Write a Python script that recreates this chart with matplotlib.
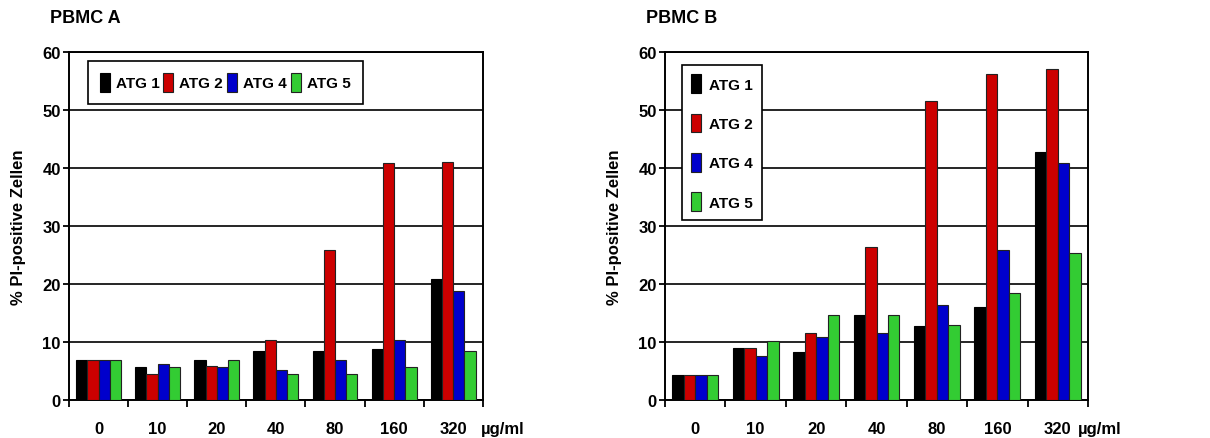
import matplotlib.pyplot as plt
import numpy as np

plt.rcParams['font.family'] = ['Liberation Sans', 'DejaVu Sans']
plt.rcParams['font.weight'] = 'bold'

doses = ['0', '10', '20', '40', '80', '160', '320']
series = ['ATG 1', 'ATG 2', 'ATG 4', 'ATG 5']
colors = ['#000000', '#cc0000', '#0000cc', '#33cc33']

# PBMC A
a_atg1 = [6.8, 5.6, 6.8, 8.5, 8.5, 8.8, 20.9]
a_atg2 = [6.8, 4.5, 5.9, 10.4, 25.8, 40.9, 41.1]
a_atg4 = [6.8, 6.1, 5.6, 5.1, 6.8, 10.4, 18.8]
a_atg5 = [6.8, 5.6, 6.8, 4.5, 4.5, 5.6, 8.4]

# PBMC B
b_atg1 = [4.2, 9.0, 8.2, 14.6, 12.7, 16.1, 42.8]
b_atg2 = [4.2, 9.0, 11.5, 26.4, 51.5, 56.3, 57.1]
b_atg4 = [4.2, 7.6, 10.9, 11.5, 16.3, 25.9, 40.8]
b_atg5 = [4.2, 10.1, 14.6, 14.6, 12.9, 18.5, 25.3]

fig = plt.figure(figsize=(12.1, 4.39), dpi=100)
ax_a = fig.add_axes([0.057, 0.087, 0.342, 0.792])
ax_b = fig.add_axes([0.5496, 0.087, 0.3496, 0.792])


def draw(ax, data, title, unit_x, legend_kw):
    x = np.arange(len(doses))
    w = 0.19
    for i, (vals, c) in enumerate(zip(data, colors)):
        ec = '#000000' if i == 0 else '#222222'
        ax.bar(x + (i - 1.5) * w, vals, width=w, color=c, edgecolor=ec,
               linewidth=0.8, label=series[i], zorder=3)
    ax.set_xlim(-0.5, len(doses) - 0.5)
    ax.set_ylim(0, 60)
    ax.set_yticks(range(0, 61, 10))
    ax.yaxis.grid(True, color='black', linewidth=1.2, zorder=0)
    ax.set_axisbelow(True)
    ax.set_xticks(x)
    ax.set_xticklabels(doses, fontsize=12, fontweight='bold')
    ax.set_xticks(np.arange(-0.5, len(doses)), minor=True)
    ax.tick_params(axis='x', which='major', length=0, pad=15)
    ax.tick_params(axis='x', which='minor', length=5, width=1.3, direction='out')
    ax.tick_params(axis='y', length=4, width=1.3, labelsize=12, pad=2)
    for lab in ax.get_yticklabels():
        lab.set_fontweight('bold')
    for s in ax.spines.values():
        s.set_linewidth(1.4)
    ax.set_ylabel('% PI-positive Zellen', fontsize=12, fontweight='bold', labelpad=12)
    ax.text(-0.045, 1.1, title, transform=ax.transAxes, fontsize=13,
            fontweight='bold', ha='left', va='center')
    ax.text(unit_x, -0.083, 'µg/ml', transform=ax.transAxes, fontsize=12,
            fontweight='bold', ha='left', va='center')
    leg = ax.legend(fancybox=False, edgecolor='black', framealpha=1,
                    prop={'weight': 'bold', 'size': 11}, handlelength=0.65,
                    handleheight=1.5, **legend_kw)
    leg.get_frame().set_linewidth(1.2)


draw(ax_a, [a_atg1, a_atg2, a_atg4, a_atg5], 'PBMC A', 0.995,
     dict(ncol=4, loc='upper left', bbox_to_anchor=(0.045, 0.975),
          columnspacing=0.25, handletextpad=0.4, borderpad=0.8, borderaxespad=0))
draw(ax_b, [b_atg1, b_atg2, b_atg4, b_atg5], 'PBMC B', 0.975,
     dict(ncol=1, loc='upper left', bbox_to_anchor=(0.04, 0.962),
          labelspacing=1.35, handletextpad=0.5, borderpad=0.6, borderaxespad=0))

fig.savefig('out.png', dpi=100)
